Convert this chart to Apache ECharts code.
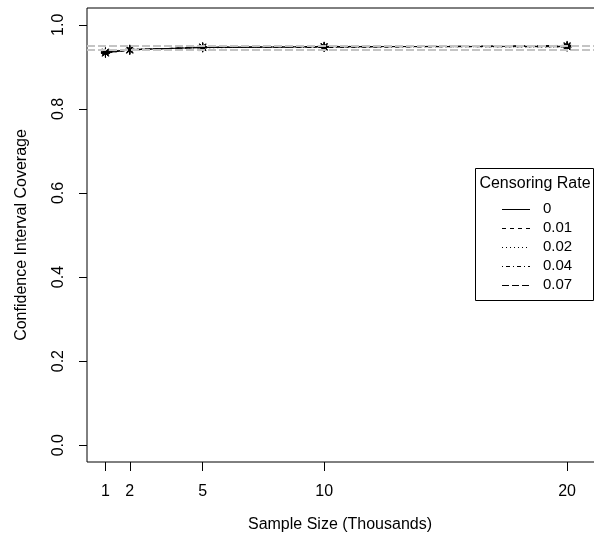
<!DOCTYPE html>
<html>
<head>
<meta charset="utf-8">
<script src="https://cdn.jsdelivr.net/npm/echarts@6/dist/echarts.min.js"></script>
<style>
  html, body { margin: 0; padding: 0; background: #fff; }
  #chart { width: 594px; height: 542px; }
</style>
</head>
<body>
<div id="chart"></div>
<script>
// Sample sizes (thousands) on the x axis
const sampleSizes = [1, 2, 5, 10, 20];
// Censoring rates, one line each
const censoringRates = ['0', '0.01', '0.02', '0.04', '0.07'];
// Coverage of the confidence interval per censoring rate
const coverage0    = [0.935, 0.941, 0.946, 0.948, 0.949];
const coverage001  = [0.933, 0.940, 0.947, 0.947, 0.951];
const coverage002  = [0.936, 0.942, 0.945, 0.949, 0.947];
const coverage004  = [0.934, 0.939, 0.948, 0.946, 0.950];
const coverage007  = [0.932, 0.941, 0.946, 0.948, 0.948];
// Reference band around the nominal 95% level
const nominalBand = [0.943, 0.955];
// Axis tick values
const xTicks = [1, 2, 5, 10, 20];
const yTicks = [0, 0.2, 0.4, 0.6, 0.8, 1.0];

const coverageByRate = [coverage0, coverage001, coverage002, coverage004, coverage007];
// R-like line types: solid, dashed, dotted, dotdash, longdash
const dashTypes = ['solid', [4, 4], [1, 3], [1, 3, 4, 3], [7, 3]];

const FONT = 'Liberation Sans, Arial, sans-serif';
const asterisk = 'path://M5,0L5,10M0,5L10,5M1.5,1.5L8.5,8.5M1.5,8.5L8.5,1.5';

const series = censoringRates.map((rate, i) => ({
  name: rate,
  type: 'line',
  data: sampleSizes.map((x, j) => [x, coverageByRate[i][j]]),
  symbol: asterisk,
  symbolSize: 9,
  showAllSymbol: true,
  lineStyle: { color: '#000', width: 1, type: dashTypes[i] },
  itemStyle: { color: '#000', borderColor: '#000', borderWidth: 1 },
  z: 3
}));

// Grey dashed reference lines
series.push({
  name: 'band',
  type: 'line',
  data: [],
  markLine: {
    silent: true,
    symbol: 'none',
    label: { show: false },
    lineStyle: { color: '#c4c4c4', width: 2, type: [8, 3] },
    data: nominalBand.map(v => ({ yAxis: v }))
  },
  z: 2
});

// Legend drawn as a boxed key with title
const legendLeft = 475, legendTop = 168;
const legendEls = [
  { type: 'rect', shape: { x: legendLeft + 0.5, y: legendTop + 0.5, width: 118, height: 132 },
    style: { fill: '#fff', stroke: '#000', lineWidth: 1 }, z: 10 },
  { type: 'text', x: legendLeft + 60, y: legendTop + 16,
    style: { text: 'Censoring Rate', font: '16px ' + FONT, fill: '#000', align: 'center', verticalAlign: 'middle' }, z: 11 }
];
censoringRates.forEach((rate, i) => {
  const cy = legendTop + 41 + i * 19;
  legendEls.push({ type: 'line', shape: { x1: legendLeft + 27, y1: cy + 0.5, x2: legendLeft + 55, y2: cy + 0.5 },
    style: { stroke: '#000', lineWidth: 1, lineDash: dashTypes[i] === 'solid' ? null : dashTypes[i] }, z: 11 });
  legendEls.push({ type: 'text', x: legendLeft + 68, y: cy,
    style: { text: rate, font: '15px ' + FONT, fill: '#000', align: 'left', verticalAlign: 'middle' }, z: 11 });
});

const chart = echarts.init(document.getElementById('chart'), null, { renderer: 'canvas' });
chart.setOption({
  animation: false,
  backgroundColor: '#fff',
  grid: { left: 87, top: 8, width: 519, height: 454, show: true, borderColor: '#000', borderWidth: 1,
    containLabel: false, outerBoundsMode: 'none' },
  xAxis: {
    type: 'value', min: 0.24, max: 21.6,
    name: 'Sample Size (Thousands)', nameLocation: 'middle', nameGap: 55,
    nameTextStyle: { fontFamily: FONT, fontSize: 16, color: '#000', padding: [0, 13, 0, 0] },
    axisLine: { show: false, onZero: false },
    splitLine: { show: false },
    axisTick: { show: true, inside: false, length: 9, customValues: xTicks, lineStyle: { color: '#000' } },
    axisLabel: { customValues: xTicks, fontFamily: FONT, fontSize: 16, color: '#000', margin: 22 }
  },
  yAxis: {
    type: 'value', min: -0.04, max: 1.04,
    name: 'Confidence Interval Coverage', nameLocation: 'middle', nameGap: 57,
    nameTextStyle: { fontFamily: FONT, fontSize: 16, color: '#000' },
    axisLine: { show: false, onZero: false },
    splitLine: { show: false },
    axisTick: { show: true, inside: false, length: 8, customValues: yTicks, lineStyle: { color: '#000' } },
    axisLabel: { customValues: yTicks, rotate: 90, fontFamily: FONT, fontSize: 16, color: '#000', margin: 20,
      formatter: v => v.toFixed(1) }
  },
  series: series,
  graphic: legendEls
});
</script>
</body>
</html>
